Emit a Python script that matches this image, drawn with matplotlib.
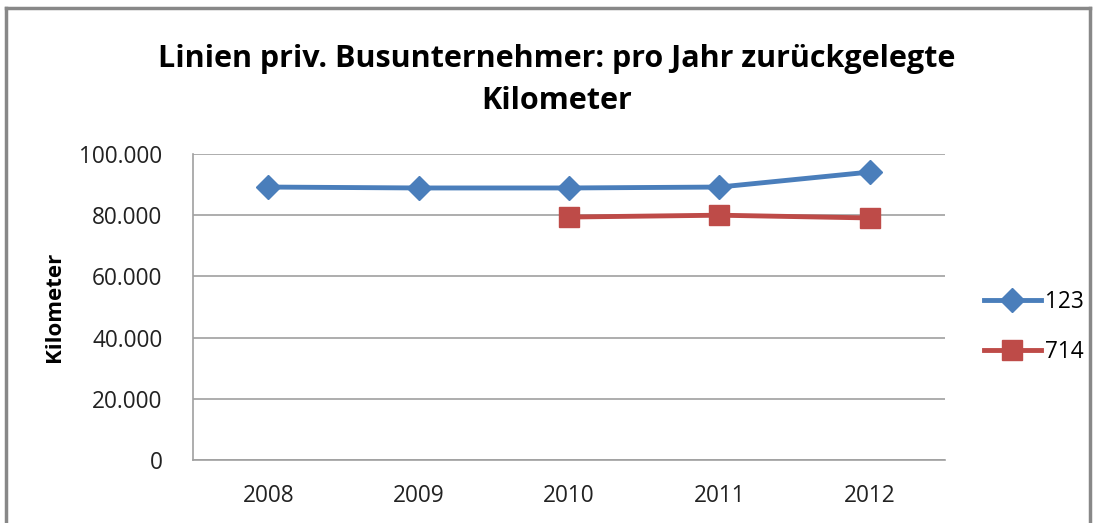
import matplotlib.pyplot as plt
import numpy as np
from matplotlib.lines import Line2D
from matplotlib.ticker import FuncFormatter

# =================
# DATEN
# =================
jahre = ["2008", "2009", "2010", "2011", "2012"]
linie_123 = [89200, 88900, 88900, 89200, 94100]
linie_714 = [np.nan, np.nan, 79400, 80000, 79100]

plt.rcParams["font.family"] = ["Open Sans", "DejaVu Sans"]

fig = plt.figure(figsize=(11.01, 5.23), dpi=100)
ax = fig.add_axes([193 / 1101, 1 - 460 / 523, (945 - 193) / 1101, (460 - 154) / 523])

x = np.arange(len(jahre))
ax.plot(x, linie_123, color="#4A7EBB", lw=3.5, marker="D", ms=12,
        markeredgecolor="#4A7EBB", label="123", solid_joinstyle="round")
ax.plot(x, linie_714, color="#BE4B48", lw=3.5, marker="s", ms=14,
        markeredgecolor="#BE4B48", label="714")

ax.set_xlim(-0.5, len(jahre) - 0.5)
ax.set_ylim(0, 100000)
ax.set_yticks(np.arange(0, 100001, 20000))
ax.yaxis.set_major_formatter(FuncFormatter(lambda v, p: f"{int(v):,}".replace(",", ".")))
ax.set_xticks(x)
ax.set_xticklabels(jahre)
ax.grid(axis="y", color="#A0A0A0", lw=1.2)
ax.set_axisbelow(True)

for s in ["top", "right"]:
    ax.spines[s].set_visible(False)
for s in ["left", "bottom"]:
    ax.spines[s].set_color("#A0A0A0")
    ax.spines[s].set_linewidth(1.2)

ax.tick_params(axis="both", length=0, labelsize=16.3, colors="#222222")
ax.tick_params(axis="y", pad=22)
ax.tick_params(axis="x", pad=17)

ax.set_ylabel("Kilometer", fontsize=16, fontweight="bold", labelpad=10)

fig.text(0.506, 1 - 80 / 523, "Linien priv. Busunternehmer: pro Jahr zurückgelegte\nKilometer",
         ha="center", va="center", fontsize=22, fontweight="bold", linespacing=1.55)

leg = ax.legend(loc="center left", bbox_to_anchor=((984 - 193) / 752, (460 - 327) / 306),
                frameon=False, fontsize=16.3, handlelength=2.5, labelspacing=1.15,
                handletextpad=0.2, borderaxespad=0, borderpad=0)

# Rahmen
rahmen = "#888888"
fig.add_artist(Line2D([6 / 1101, 1090 / 1101], [1 - 8 / 523, 1 - 8 / 523], color=rahmen, lw=2.5))
fig.add_artist(Line2D([6 / 1101, 6 / 1101], [0, 1 - 8 / 523], color=rahmen, lw=2.5))
fig.add_artist(Line2D([1090 / 1101, 1090 / 1101], [0, 1 - 8 / 523], color=rahmen, lw=2.5))

fig.savefig("out.png", dpi=100)
